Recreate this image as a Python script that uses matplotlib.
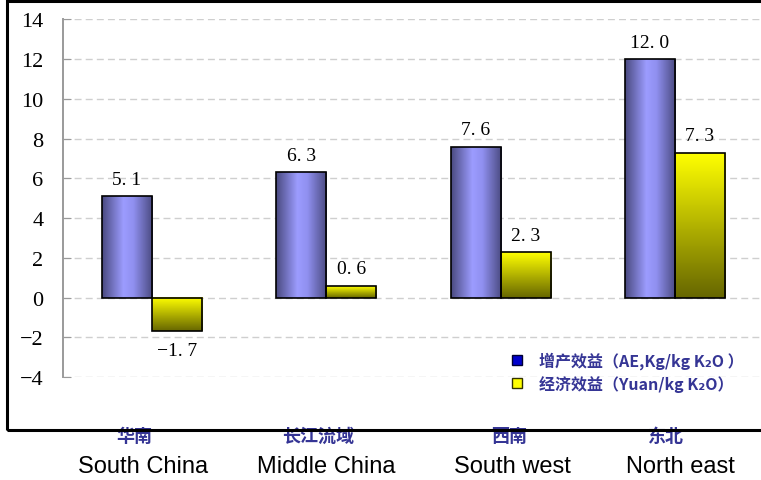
import numpy as np
import matplotlib.pyplot as plt
import matplotlib.transforms as mtransforms
from matplotlib.colors import LinearSegmentedColormap
from matplotlib.lines import Line2D
from matplotlib.patches import Rectangle

regions_cn = ["华南", "长江流域", "西南", "东北"]
regions_en = ["South China", "Middle China", "South west", "North east"]
ae = [5.1, 6.3, 7.6, 12.0]        # 增产效益, kg grain / kg K2O
yuan = [-1.7, 0.6, 2.3, 7.3]      # 经济效益, yuan / kg K2O
yticks = [-4, -2, 0, 2, 4, 6, 8, 10, 12, 14]
legend_labels = ["增产效益（AE,Kg/kg K₂O ）", "经济效益（Yuan/kg K₂O）"]

# small nudges of the region names, in category units
cn_shift = [-0.10, -0.05, 0.05, -0.05]
en_shift = [-0.05, 0.0, 0.07, 0.03]

cjk = ["Noto Sans CJK SC", "DejaVu Sans"]
navy = "#353595"

fig = plt.figure(figsize=(7.61, 4.81), dpi=100)
ax = fig.add_axes([0.0828, 0.2141, 0.9172, 0.7433])

x = np.arange(len(regions_en))
w = 0.287
blue_bars = ax.bar(x - w / 2, ae, w, facecolor="none", edgecolor="black", lw=1.2, zorder=3)
yellow_bars = ax.bar(x + w / 2, yuan, w, facecolor="none", edgecolor="black", lw=1.2, zorder=3)

# gradient fills: blue shaded left-right like a cylinder, yellow fading downwards
blue_grad = LinearSegmentedColormap.from_list(
    "blue_grad", [(0, "#4a4a80"), (0.42, "#9c9cff"), (0.62, "#9090f0"), (1, "#4a4a80")])
yellow_grad = LinearSegmentedColormap.from_list("yellow_grad", ["#ffff00", "#666600"])
hgrad = np.linspace(0, 1, 128).reshape(1, -1)
vgrad = np.linspace(0, 1, 128).reshape(-1, 1)

def fill(bars, grad, cmap):
    for b in bars:
        x0 = b.get_x()
        y0 = min(b.get_y(), b.get_y() + b.get_height())
        y1 = max(b.get_y(), b.get_y() + b.get_height())
        ax.imshow(grad, cmap=cmap, extent=[x0, x0 + b.get_width(), y0, y1],
                  aspect="auto", interpolation="bilinear", zorder=2)

fill(blue_bars, hgrad, blue_grad)
fill(yellow_bars, vgrad, yellow_grad)

def fmt(v):
    return f"{v:.1f}".replace(".", ". ").replace("-", "−")

for bars, vals in ((blue_bars, ae), (yellow_bars, yuan)):
    for b, v in zip(bars, vals):
        cx = b.get_x() + b.get_width() / 2
        if v >= 0:
            ax.annotate(fmt(v), (cx, v), xytext=(0, 6), textcoords="offset points",
                        ha="center", va="bottom", fontsize=14, family="Liberation Serif")
        else:
            ax.annotate(fmt(v), (cx, v), xytext=(0, -8), textcoords="offset points",
                        ha="center", va="top", fontsize=14, family="Liberation Serif")

ax.set_xlim(-0.511, 3.494)
ax.set_ylim(-4, 14)
ax.set_yticks(yticks)
ax.set_xticks([])
ax.yaxis.grid(True, linestyle=(0, (5, 3)), color="#cfcfcf", lw=1)
ax.set_axisbelow(True)
for s in ("top", "right", "bottom"):
    ax.spines[s].set_visible(False)
ax.spines["left"].set_color("#9a9a9a")
ax.spines["left"].set_linewidth(1.4)
ax.tick_params(axis="y", direction="in", length=6, color="#9a9a9a", pad=14, labelsize=16)
for t in ax.get_yticklabels():
    t.set_family("Liberation Serif")

# region names under the plot, Chinese above English
trans = mtransforms.blended_transform_factory(ax.transData, fig.transFigure)
for xi, cn, en, dc, de in zip(x, regions_cn, regions_en, cn_shift, en_shift):
    ax.text(xi + dc, 0.093, cn, transform=trans, ha="center", va="center",
            fontsize=13, fontweight="bold", color=navy, family=cjk)
    ax.text(xi + de, 0.030, en, transform=trans, ha="center", va="center",
            fontsize=17, family="Liberation Sans")

handles = [
    Line2D([], [], marker="s", ls="none", markersize=7, markerfacecolor="#0000cc",
           markeredgecolor="#000033"),
    Line2D([], [], marker="s", ls="none", markersize=7, markerfacecolor="#ffff00",
           markeredgecolor="#333300"),
]
ax.legend(handles, legend_labels, loc="upper left", bbox_to_anchor=(0.65, 0.298),
          bbox_transform=fig.transFigure, frameon=False, labelcolor=navy,
          prop={"family": cjk, "size": 11.5, "weight": "bold"},
          handletextpad=0.9, labelspacing=0.4, handlelength=1.0)

# outer frame around the chart
fig.add_artist(Rectangle((0.0092, 0.104), 1.2, 0.8918, transform=fig.transFigure,
                         fill=False, lw=2.2, edgecolor="black"))

fig.savefig("out.png", dpi=100)
